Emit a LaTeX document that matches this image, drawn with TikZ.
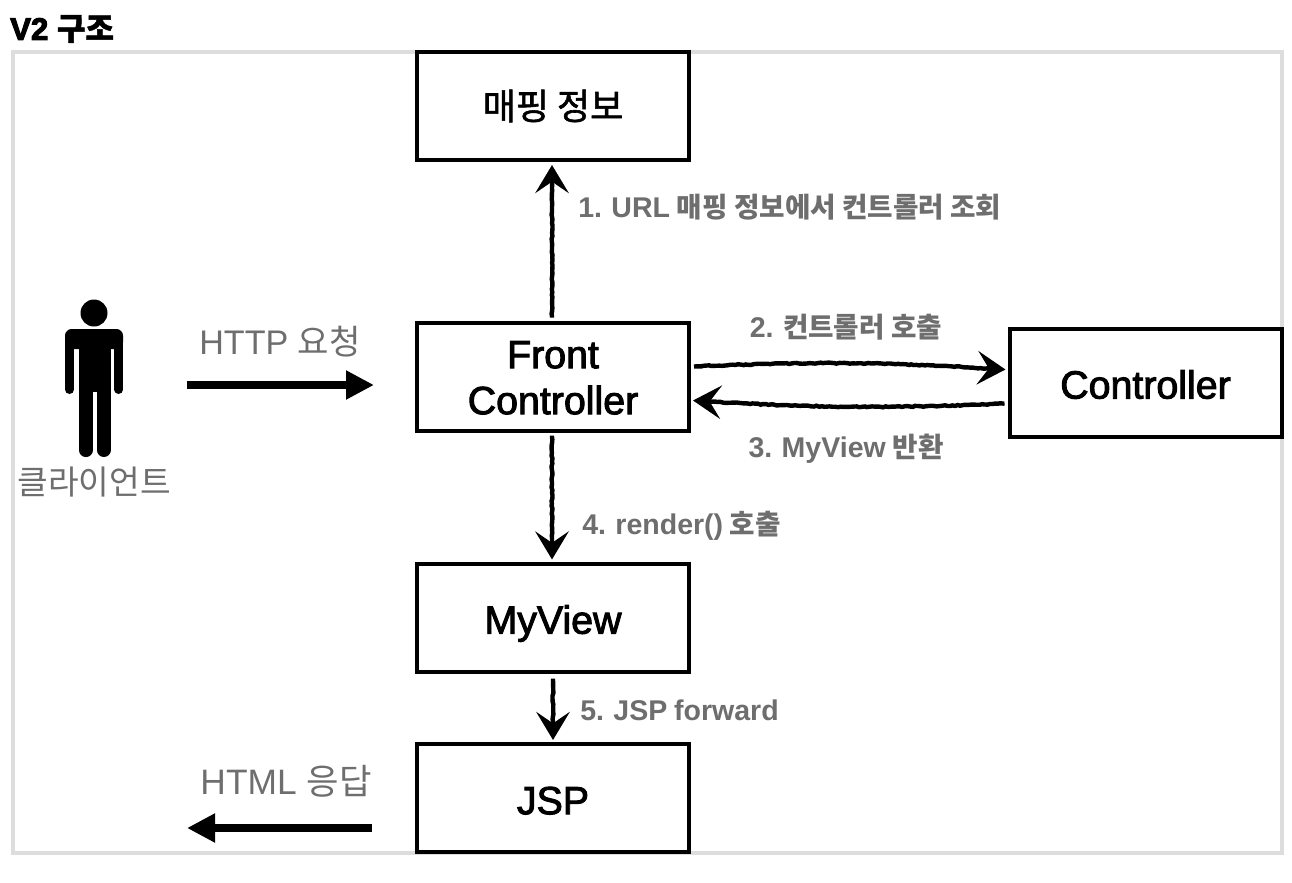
\documentclass[tikz,border=0pt]{standalone}
\usepackage{fontspec}
\setmainfont{Liberation Sans}
\newfontfamily\kofont{Noto Sans CJK KR}
\newfontfamily\kostep[Scale=0.97]{Noto Sans CJK KR}
\newfontfamily\stepfont[WordSpace=0.85]{Liberation Sans}
\newfontfamily\medfont[FakeBold=2.4]{Liberation Sans}
\newfontfamily\komed[FakeBold=1.6]{Noto Sans CJK KR}
\newfontfamily\titlefont[BoldFeatures={FakeBold=3.5}]{Liberation Sans}
\newfontfamily\kotitle[BoldFeatures={FakeBold=1.5}]{Noto Sans CJK KR}
\newcommand{\ko}[1]{{\kofont #1}}
\newcommand{\kos}[1]{{\kostep\bfseries #1}}
\newcommand{\inkdown}[2]{\raisebox{-#1}[\height][\depth]{#2}}
\usetikzlibrary{arrows.meta,calc,decorations.pathmorphing}
\definecolor{labelgray}{HTML}{6E6E6E}
\definecolor{framegray}{HTML}{DDDDDD}
\tikzset{
  boxnode/.style={draw=black,line width=3pt,fill=white,inner sep=0pt,minimum width=204pt,minimum height=81pt,align=center,font=\fontsize{29.5}{34.5}\selectfont\medfont},
  biglabel/.style={text=labelgray,inner sep=0pt,font=\fontsize{25.6}{30}\selectfont},
  steplabel/.style={text=labelgray,inner sep=0pt,font=\fontsize{21.4}{25}\selectfont\stepfont\bfseries},
  sketchy/.style={draw=black,line width=3.3pt,decoration={random steps,segment length=2pt,amplitude=.4pt,post length=14pt,pre length=1pt},decorate,-{Stealth[length=21pt,width=25pt,inset=8.5pt]}},
  heavy/.style={draw=black,line width=5.5pt,-{Triangle[length=21pt,width=20.5pt]}}
}
\pgfmathsetseed{4}
\begin{document}
\begin{tikzpicture}[x=0.75pt,y=-0.75pt]
\useasboundingbox (0,0) rectangle (1292,882);
\fill[white] (0,0) rectangle (1292,882);
\draw[framegray,line width=2.4pt] (13,52) rectangle (1282,853);
\node[anchor=west,inner sep=0pt,font=\fontsize{23.3}{28}\selectfont] (title) at (10,29) {{\titlefont\bfseries V2} {\kotitle\bfseries 구조}};

\node[boxnode] (mapping) at (553,106) {{\komed\fontsize{27}{32}\selectfont 매핑 정보}};
\node[boxnode] (front) at (553,376.5) {\inkdown{1pt}{Front}\\\inkdown{1pt}{Controller}};
\node[boxnode] (controller) at (1145.5,382.5) {\inkdown{1.5pt}{Controller}};
\node[boxnode] (myview) at (553,617.5) {\inkdown{4.5pt}{MyView}};
\node[boxnode] (jsp) at (553,798) {\inkdown{2pt}{JSP}};

% person
\node[minimum width=43.5pt,minimum height=118pt,inner sep=0pt] (person) at (94,378) {};
\fill[black] (94,313) circle[radius=13.5];
\fill[black,rounded corners=5pt] (65,349) -- (65,329) -- (123,329) -- (123,349) -- cycle;
\fill[black] (79,340) rectangle (110.7,392);
\draw[black,line width=6.75pt,line cap=round] (69.5,338) -- (69.5,389.5);
\draw[black,line width=6.4pt,line cap=round] (118.7,338) -- (118.7,389.7);
\draw[black,line width=10.3pt,line cap=round] (85.8,385) -- (85.8,450.2);
\draw[black,line width=10.5pt,line cap=round] (103.7,385) -- (103.7,450);
\node[biglabel,font=\fontsize{25}{30}\selectfont] (clientlabel) at (94,482) {\ko{클라이언트}};

% big arrows
\node[biglabel] (httplabel) at (280,342) {HTTP \ko{요청}};
\draw[heavy] ($(person.east)+(64,7)$) -- ($(front.west)+(-41,8.5)$);
\node[biglabel,font=\fontsize{26.5}{30}\selectfont] (htmllabel) at (286,781) {HTML \ko{응답}};
\coordinate (htmlend) at (187,828);
\draw[heavy] ($(jsp.west)+(-43,30)$) -- (htmlend);

% sketchy connectors
\draw[sketchy] ($(front.north)+(-1,-3)$) -- ($(mapping.south)+(-1,3)$);
\draw[sketchy] ($(front.east)+(3,-10)$) to[bend left=3] ($(controller.west)+(-2,-13)$);
\draw[sketchy] ($(controller.west)+(-3,21)$) to[bend left=3] ($(front.east)+(2,24)$);
\draw[sketchy] ($(front.south)+(-1,3)$) -- ($(myview.north)+(-1,-2)$);
\draw[sketchy] ($(myview.south)+(0,5)$) -- ($(jsp.north)+(0,-2)$);

% step labels
\node[steplabel,anchor=west] (l1) at (578,207) {1. URL \kos{매핑 정보에서 컨트롤러 조회}};
\node[steplabel] (l2) at (846,327) {2. \kos{컨트롤러 호출}};
\node[steplabel] (l3) at (846,449) {3. MyView \kos{반환}};
\node[steplabel,anchor=west] (l4) at (582,526) {4. render() \kos{호출}};
\node[steplabel,anchor=west] (l5) at (580,710) {5. JSP forward};
\end{tikzpicture}
\end{document}
